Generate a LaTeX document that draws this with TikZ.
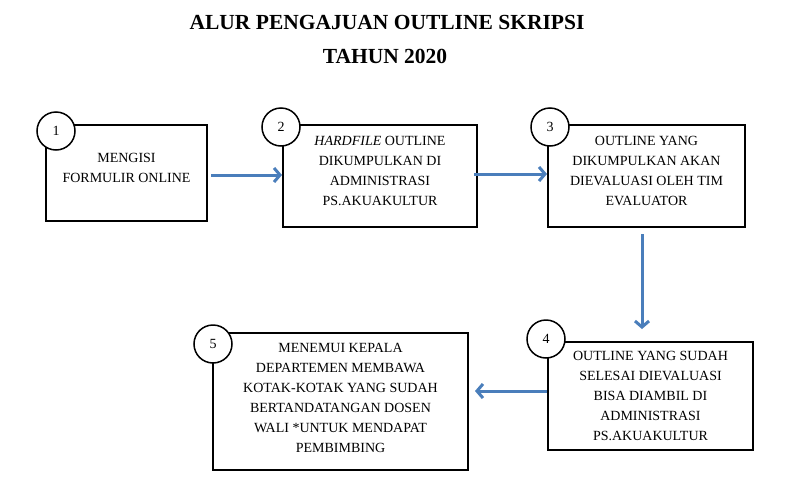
\documentclass[tikz,border=0pt]{standalone}
\usepackage{fontspec}
\setmainfont{Liberation Serif}
\usetikzlibrary{arrows.meta}
\definecolor{alurbiru}{RGB}{74,126,187}
\begin{document}
\begin{tikzpicture}[x=1pt,y=-1pt,
    kotak/.style={draw,line width=2pt,align=center,inner sep=2pt,font=\fontsize{14}{20}\selectfont},
    nomor/.style={draw,circle,fill=white,line width=1.5pt,minimum size=38pt,inner sep=0pt,font=\fontsize{14}{16}\selectfont},
    alur/.style={-{Straight Barb[length=6pt,width=14pt]},alurbiru,line width=3pt}]
  \useasboundingbox (0,0) rectangle (807,485);
  \node[font=\bfseries\fontsize{21.5}{24}\selectfont] (judul) at (387,22) {ALUR PENGAJUAN OUTLINE SKRIPSI}; %judul
  \node[font=\bfseries\fontsize{21.5}{24}\selectfont] (tahun) at (385,56) {TAHUN 2020};

  \node[kotak,minimum width=161pt,minimum height=96pt] (k1) at (126.5,173) {MENGISI\\FORMULIR ONLINE\\[-10pt]};
  \node[kotak,minimum width=194pt,minimum height=102pt] (k2) at (380,176) {\textit{HARDFILE} OUTLINE\\DIKUMPULKAN DI\\ADMINISTRASI\\PS.AKUAKULTUR\\[-10pt]};
  \node[kotak,minimum width=197pt,minimum height=102pt] (k3) at (646.5,176) {OUTLINE YANG\\DIKUMPULKAN AKAN\\DIEVALUASI OLEH TIM\\EVALUATOR\\[-10pt]};
  \node[kotak,minimum width=205pt,minimum height=108pt] (k4) at (650.5,396) {OUTLINE YANG SUDAH\\SELESAI DIEVALUASI\\BISA DIAMBIL DI\\ADMINISTRASI\\PS.AKUAKULTUR};
  \node[kotak,minimum width=255pt,minimum height=137pt] (k5) at (340.5,401.5) {MENEMUI KEPALA\\DEPARTEMEN MEMBAWA\\KOTAK-KOTAK YANG SUDAH\\BERTANDATANGAN DOSEN\\WALI *UNTUK MENDAPAT\\PEMBIMBING\\[-12pt]};

  \node[nomor] (n1) at (56,131) {1}; %nomor langkah
  \node[nomor] (n2) at (281,127) {2};
  \node[nomor] (n3) at (550,127) {3};
  \node[nomor] (n4) at (546,339) {4};
  \node[nomor] (n5) at (213,344) {5};

  \draw[alur,shorten <=3pt] ([yshift=-2pt]k1.east) -- ([yshift=-2pt]k1.east -| k2.west);
  \draw[alur,shorten <=-4pt] ([yshift=2pt]k2.east) -- ([yshift=2pt]k2.east -| k3.west);
  \draw[alur,shorten <=6pt,shorten >=12pt] ([xshift=-4.5pt]k3.south) -- ([xshift=-4.5pt]k3.south |- k4.north);
  \draw[alur,shorten >=6pt] ([yshift=5pt]k4.west) -- ([yshift=5pt]k4.west -| k5.east);
\end{tikzpicture}
\end{document}
